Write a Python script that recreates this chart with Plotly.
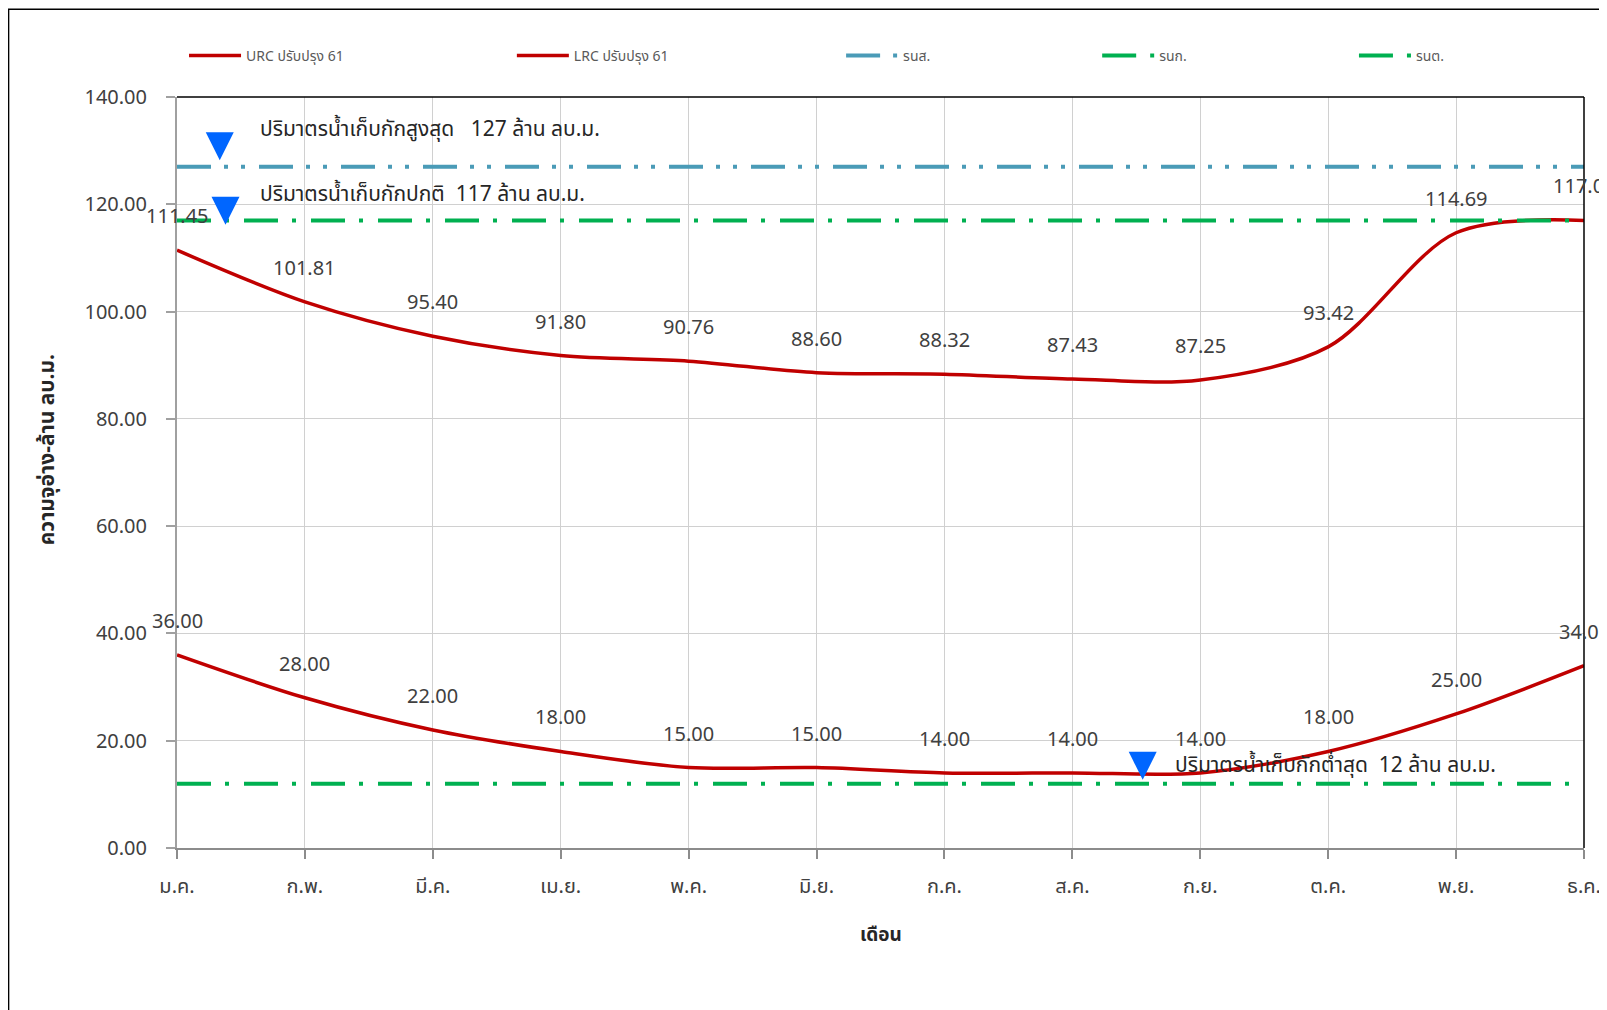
import plotly.graph_objects as go

months = ['ม.ค.', 'ก.พ.', 'มี.ค.', 'เม.ย.', 'พ.ค.', 'มิ.ย.', 'ก.ค.', 'ส.ค.', 'ก.ย.', 'ต.ค.', 'พ.ย.', 'ธ.ค.']
urc = [111.45, 101.81, 95.40, 91.80, 90.76, 88.60, 88.32, 87.43, 87.25, 93.42, 114.69, 117.00]
lrc = [36.00, 28.00, 22.00, 18.00, 15.00, 15.00, 14.00, 14.00, 14.00, 18.00, 25.00, 34.00]
rns = [127, 127, 127, 127, 127, 127, 127, 127, 127, 127, 127, 127]
rnk = [117, 117, 117, 117, 117, 117, 117, 117, 117, 117, 117, 117]
rnt = [12, 12, 12, 12, 12, 12, 12, 12, 12, 12, 12, 12]
y_ticks = [0, 20, 40, 60, 80, 100, 120, 140]

marker_x = [0.334, 0.379, 7.55]
marker_y = [128.2, 116.2, 12.7]
note_x = [0.63, 0.63, 7.79]
note_y = [134.0, 121.8, 15.3]
note_text = ['ปริมาตรน้ำเก็บกักสูงสุด\u00a0\u00a0\u00a0127 ล้าน ลบ.ม.',
             'ปริมาตรน้ำเก็บกักปกติ\u00a0\u00a0117 ล้าน ลบ.ม.',
             'ปริมาตรน้ำเก็บกักต่ำสุด\u00a0\u00a012 ล้าน ลบ.ม.']

FONT = "Tahoma, 'Leelawadee UI', 'Noto Sans Thai', 'Noto Sans', sans-serif"
RED = '#C00000'
TEAL = '#4A9BB7'
GREEN = '#00B050'
xs = list(range(len(months)))

fig = go.Figure()
fig.add_trace(go.Scatter(x=xs, y=urc, mode='lines', name='URC ปรับปรุง 61',
                         line=dict(color=RED, width=3.5, shape='spline', smoothing=0.9),
                         legend='legend'))
fig.add_trace(go.Scatter(x=xs, y=lrc, mode='lines', name='LRC ปรับปรุง 61',
                         line=dict(color=RED, width=3.5, shape='spline', smoothing=0.9),
                         legend='legend2'))
fig.add_trace(go.Scatter(x=xs, y=rns, mode='lines', name='รนส.',
                         line=dict(color=TEAL, width=4, dash='34px,13px,4px,13px,4px,14px'),
                         legend='legend3'))
fig.add_trace(go.Scatter(x=xs, y=rnk, mode='lines', name='รนก.',
                         line=dict(color=GREEN, width=4, dash='34px,14px,4px,15px'),
                         legend='legend4'))
fig.add_trace(go.Scatter(x=xs, y=rnt, mode='lines', name='รนต.',
                         line=dict(color=GREEN, width=4, dash='34px,14px,4px,15px'),
                         legend='legend5'))
fig.add_trace(go.Scatter(x=marker_x, y=marker_y, mode='markers', showlegend=False,
                         marker=dict(symbol='arrow-down', size=28, color='#0066FF', line=dict(width=0)),
                         cliponaxis=False, hoverinfo='skip'))

annotations = []
for series in (urc, lrc):
    for i, v in enumerate(series):
        annotations.append(dict(x=xs[i], y=v, text=f'{v:.2f}', showarrow=False,
                                yshift=33, xanchor='center', yanchor='middle',
                                font=dict(family=FONT, size=20, color='#404040')))
for tx, ty, tt in zip(note_x, note_y, note_text):
    annotations.append(dict(x=tx, y=ty, text=tt, showarrow=False, xanchor='left', yanchor='middle',
                            font=dict(family=FONT, size=21, color='#262626')))
annotations.append(dict(x=-0.0915, y=0.530, xref='paper', yref='paper', text='<b>ความจุอ่าง-ล้าน ลบ.ม.</b>',
                        textangle=-90, showarrow=False, xanchor='center', yanchor='middle',
                        font=dict(family=FONT, size=21, color='#262626')))
annotations.append(dict(x=0.5, y=-0.1163, xref='paper', yref='paper', text='<b>เดือน</b>',
                        showarrow=False, xanchor='center', yanchor='middle',
                        font=dict(family=FONT, size=19, color='#262626')))

shapes = [
    dict(type='line', xref='x domain', yref='y domain', x0=0, x1=1, y0=1, y1=1,
         line=dict(color='#000000', width=1.5)),
    dict(type='line', xref='x domain', yref='y domain', x0=1, x1=1, y0=0, y1=1,
         line=dict(color='#000000', width=1.5)),
    dict(type='rect', xref='paper', yref='paper', x0=-0.1197, x1=1.05, y0=-0.25, y1=1.117,
         line=dict(color='#000000', width=1.5), layer='below'),
]

leg_common = dict(orientation='h', yanchor='middle', y=1.0547, xanchor='left',
                  font=dict(family=FONT, size=14, color='#595959'), bgcolor='rgba(0,0,0,0)',
                  itemwidth=52, tracegroupgap=0)
legend_x = [0.005, 0.238, 0.472, 0.654, 0.8365]

fig.update_layout(
    width=1607, height=1010,
    margin=dict(l=169, r=31, t=89, b=170),
    paper_bgcolor='white', plot_bgcolor='white',
    font=dict(family=FONT, color='#404040'),
    showlegend=True,
    legend=dict(x=legend_x[0], **leg_common),
    legend2=dict(x=legend_x[1], **leg_common),
    legend3=dict(x=legend_x[2], **leg_common),
    legend4=dict(x=legend_x[3], **leg_common),
    legend5=dict(x=legend_x[4], **leg_common),
    annotations=annotations,
    shapes=shapes,
    xaxis=dict(range=[0, 11], tickvals=xs, ticktext=months, showgrid=True, gridcolor='#D0D0D0',
               gridwidth=1, zeroline=False, showline=True, linecolor='#8C8C8C', linewidth=2,
               ticks='outside', ticklen=9, tickcolor='#8C8C8C', tickwidth=1.5,
               ticklabelstandoff=10,
               tickfont=dict(family=FONT, size=20, color='#404040')),
    yaxis=dict(range=[0, 140], tickvals=y_ticks, tickformat='.2f', showgrid=True, gridcolor='#D0D0D0',
               gridwidth=1, zeroline=False, showline=True, linecolor='#A0A0A0', linewidth=2,
               ticks='outside', ticklen=9, tickcolor='#A0A0A0', tickwidth=1.5,
               ticklabelstandoff=15,
               tickfont=dict(family=FONT, size=20, color='#404040')),
)

fig.write_html('out.html')
